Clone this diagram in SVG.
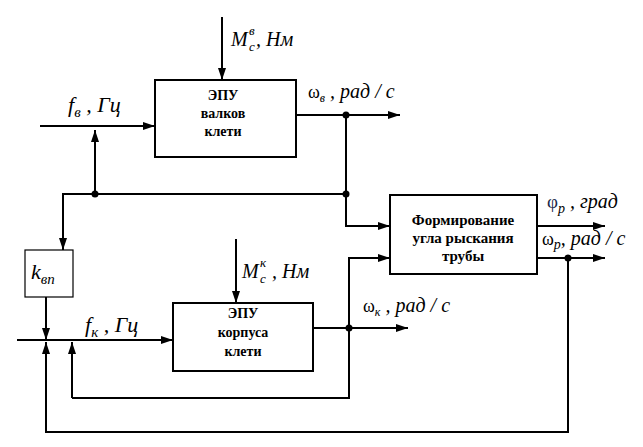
<svg xmlns="http://www.w3.org/2000/svg" width="643" height="447" viewBox="0 0 643 447">
<defs>
<marker id="ah" markerWidth="12" markerHeight="8" refX="12" refY="4" orient="auto" markerUnits="userSpaceOnUse">
<path d="M0,0 L12,4 L0,8 Z" fill="#000"/>
</marker>
</defs>
<rect width="643" height="447" fill="#fff"/>
<g id="connectors" fill="none" stroke="#000" stroke-width="2">
<line x1="222" y1="17" x2="222" y2="80" marker-end="url(#ah)"/>
<line x1="40" y1="126" x2="155" y2="126" marker-end="url(#ah)"/>
<line x1="95" y1="194" x2="95" y2="130" marker-end="url(#ah)"/>
<polyline points="63,250 63,194 346,194"/>
<line x1="63" y1="240" x2="63" y2="250" marker-end="url(#ah)"/>
<line x1="296" y1="115" x2="400" y2="115" marker-end="url(#ah)"/>
<polyline points="346,115 346,226 390,226" marker-end="url(#ah)"/>
<polyline points="314,328 408,328" marker-end="url(#ah)"/>
<polyline points="72,398 349,398 349,258 390,258" marker-end="url(#ah)"/>
<line x1="72" y1="398" x2="72" y2="342" marker-end="url(#ah)"/>
<line x1="537" y1="226" x2="605" y2="226" marker-end="url(#ah)"/>
<line x1="537" y1="258" x2="605" y2="258" marker-end="url(#ah)"/>
<polyline points="568,258 568,432 46,432 46,342" marker-end="url(#ah)"/>
<line x1="46" y1="297" x2="46" y2="340" marker-end="url(#ah)"/>
<line x1="17" y1="340" x2="173" y2="340" marker-end="url(#ah)"/>
<line x1="236" y1="239" x2="236" y2="303" marker-end="url(#ah)"/>
<g fill="#000" stroke="none">
<circle cx="95" cy="194" r="3.5"/>
<circle cx="346" cy="115" r="3.5"/>
<circle cx="346" cy="194" r="3.5"/>
<circle cx="349" cy="328" r="3.5"/>
<circle cx="568" cy="258" r="3.5"/>
</g>
</g>
<g id="epu-valkov">
<rect x="155" y="80" width="141" height="77" fill="#fff" stroke="#000" stroke-width="2"/>
<text x="223" y="100" style="font-family:'Liberation Serif',serif" font-weight="bold" font-size="14" text-anchor="middle">ЭПУ</text>
<text x="223" y="118" style="font-family:'Liberation Serif',serif" font-weight="bold" font-size="14" text-anchor="middle">валков</text>
<text x="223" y="136" style="font-family:'Liberation Serif',serif" font-weight="bold" font-size="14" text-anchor="middle">клети</text>
</g>
<g id="epu-korpusa">
<rect x="173" y="303" width="140" height="68" fill="#fff" stroke="#000" stroke-width="2"/>
<text x="243" y="318" style="font-family:'Liberation Serif',serif" font-weight="bold" font-size="14" text-anchor="middle">ЭПУ</text>
<text x="243" y="337" style="font-family:'Liberation Serif',serif" font-weight="bold" font-size="14" text-anchor="middle">корпуса</text>
<text x="243" y="356" style="font-family:'Liberation Serif',serif" font-weight="bold" font-size="14" text-anchor="middle">клети</text>
</g>
<g id="formirovanie">
<rect x="390" y="195" width="147" height="79" fill="#fff" stroke="#000" stroke-width="2"/>
<text x="463" y="225" style="font-family:'Liberation Serif',serif" font-weight="bold" font-size="15" text-anchor="middle">Формирование</text>
<text x="463" y="243" style="font-family:'Liberation Serif',serif" font-weight="bold" font-size="15" text-anchor="middle">угла рыскания</text>
<text x="463" y="261" style="font-family:'Liberation Serif',serif" font-weight="bold" font-size="15" text-anchor="middle">трубы</text>
</g>
<g id="kvp">
<rect x="25" y="250" width="48" height="47" fill="#fff" stroke="#000" stroke-width="1.2"/>
<text x="31" y="279" style="font-family:'Liberation Serif',serif" font-style="italic" font-size="22">k<tspan dy="5" font-size="15">вп</tspan></text>
</g>
<g id="labels">
<text x="231" y="46" style="font-family:'Liberation Serif',serif" font-style="italic" font-size="20">M<tspan x="249" y="35" font-size="13">в</tspan><tspan x="249" y="51" font-size="13">c</tspan><tspan x="256" y="46">, Нм</tspan></text>
<text x="68" y="112" style="font-family:'Liberation Serif',serif" font-style="italic" font-size="22">f<tspan dy="5" font-size="15">в</tspan><tspan dy="-5"> , Гц</tspan></text>
<text x="308" y="98" style="font-family:'Liberation Serif',serif" font-style="italic" font-size="20"><tspan font-style="normal" font-size="18">ω</tspan><tspan dy="4" font-size="12">в</tspan><tspan dy="-4"> , рад / с</tspan></text>
<text x="242" y="278" style="font-family:'Liberation Serif',serif" font-style="italic" font-size="20">M<tspan x="260" y="267" font-size="13">к</tspan><tspan x="260" y="283" font-size="13">c</tspan><tspan x="267" y="278"> , Нм</tspan></text>
<text x="85" y="332" style="font-family:'Liberation Serif',serif" font-style="italic" font-size="22">f<tspan dy="5" font-size="15">к</tspan><tspan dy="-5"> , Гц</tspan></text>
<text x="363" y="312" style="font-family:'Liberation Serif',serif" font-style="italic" font-size="20"><tspan font-style="normal" font-size="18">ω</tspan><tspan dy="4" font-size="12">к</tspan><tspan dy="-4"> , рад / с</tspan></text>
<text x="547" y="208" style="font-family:'Liberation Serif',serif" font-style="italic" font-size="20"><tspan font-style="normal" font-size="19" fill="#1a2a4a">φ</tspan><tspan dy="5" font-size="14">р</tspan><tspan dy="-5"> , град</tspan></text>
<text x="542" y="245" style="font-family:'Liberation Serif',serif" font-style="italic" font-size="20"><tspan font-style="normal" font-size="18">ω</tspan><tspan dy="4" font-size="14">р</tspan><tspan dy="-4">, рад / с</tspan></text>
</g>
</svg>
